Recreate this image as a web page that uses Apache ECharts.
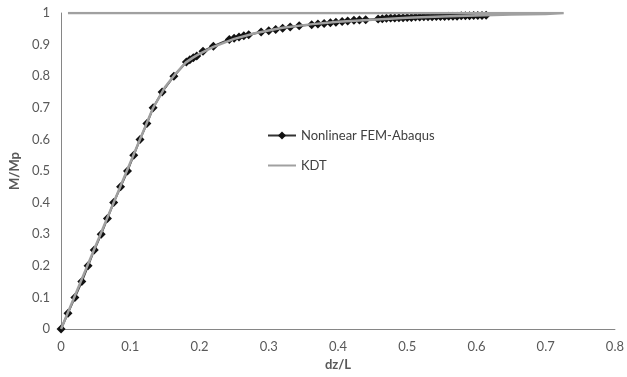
<!DOCTYPE html>
<html>
<head>
<meta charset="utf-8">
<script src="https://cdn.jsdelivr.net/npm/echarts@6/dist/echarts.min.js"></script>
<style>
  html, body { margin: 0; padding: 0; background: #fff; }
  #main { width: 627px; height: 377px; }
</style>
</head>
<body>
<div id="main"></div>
<script>
// FEM (Abaqus) points
const femX = [0, 0.010, 0.020, 0.030, 0.039, 0.048, 0.058, 0.067, 0.076, 0.086, 0.096, 0.105, 0.114, 0.124, 0.133, 0.146, 0.163, 0.181, 0.186, 0.191, 0.196, 0.205, 0.220, 0.243, 0.250, 0.257, 0.264, 0.271, 0.289, 0.300, 0.310, 0.320, 0.331, 0.344, 0.362, 0.371, 0.380, 0.389, 0.397, 0.406, 0.414, 0.423, 0.431, 0.440, 0.458, 0.464, 0.470, 0.476, 0.482, 0.488, 0.494, 0.500, 0.506, 0.512, 0.518, 0.524, 0.530, 0.536, 0.542, 0.548, 0.554, 0.560, 0.566, 0.572, 0.578, 0.584, 0.590, 0.596, 0.602, 0.608, 0.614]
const femY = [0, 0.05, 0.10, 0.15, 0.20, 0.25, 0.30, 0.35, 0.40, 0.45, 0.50, 0.55, 0.60, 0.65, 0.70, 0.75, 0.80, 0.845, 0.852, 0.858, 0.864, 0.879, 0.895, 0.916, 0.920, 0.924, 0.928, 0.931, 0.940, 0.944, 0.948, 0.952, 0.956, 0.960, 0.963, 0.965, 0.967, 0.969, 0.971, 0.973, 0.975, 0.977, 0.978, 0.979, 0.981, 0.982, 0.983, 0.984, 0.984, 0.985, 0.985, 0.986, 0.986, 0.987, 0.987, 0.988, 0.988, 0.988, 0.989, 0.989, 0.989, 0.990, 0.990, 0.990, 0.991, 0.991, 0.991, 0.992, 0.992, 0.992, 0.993]

// KDT curve, ends with the Mp = 1 line drawn back to the left
const kdtX = [0, 0.133, 0.150, 0.165, 0.180, 0.190, 0.200, 0.220, 0.250, 0.280, 0.320, 0.360, 0.400, 0.450, 0.500, 0.550, 0.600, 0.650, 0.700, 0.726, 0.010]
const kdtY = [0, 0.700, 0.765, 0.807, 0.843, 0.858, 0.871, 0.893, 0.918, 0.936, 0.953, 0.964, 0.972, 0.979, 0.985, 0.989, 0.992, 0.995, 0.997, 1.000, 1.000]

const xTicks = ['0', '0.1', '0.2', '0.3', '0.4', '0.5', '0.6', '0.7', '0.8']
const yTicks = ['0', '0.1', '0.2', '0.3', '0.4', '0.5', '0.6', '0.7', '0.8', '0.9', '1']

const pair = (xs, ys) => xs.map((x, i) => [x, ys[i]])

const font = 'Lato, "Open Sans", sans-serif'
const axisColor = '#868686'
const textColor = '#595959'

const myChart = echarts.init(document.getElementById('main'))
myChart.setOption({
  animation: false,
  textStyle: { fontFamily: font },
  grid: { left: 58, right: 9, top: 13, bottom: 48 },
  legend: {
    orient: 'vertical',
    left: 262,
    top: 124,
    itemWidth: 28,
    itemHeight: 10,
    itemGap: 17,
    textStyle: { fontFamily: font, fontSize: 13, color: '#404040' },
    data: [
      { name: 'Nonlinear FEM-Abaqus' },
      // plain line in the legend, no marker
      { name: 'KDT', itemStyle: { color: 'rgba(0,0,0,0)', borderWidth: 0, opacity: 0 } }
    ]
  },
  xAxis: {
    type: 'value',
    min: 0,
    max: 0.8,
    interval: 0.1,
    name: 'dz/L',
    nameLocation: 'middle',
    nameGap: 29,
    nameTextStyle: { fontFamily: font, fontSize: 13, fontWeight: 'bold', color: textColor },
    axisLine: { lineStyle: { color: axisColor, width: 1 } },
    axisTick: { show: false },
    splitLine: { show: false },
    axisLabel: {
      margin: 11,
      fontSize: 13,
      color: textColor,
      formatter: (v) => xTicks[Math.round(v * 10)]
    }
  },
  yAxis: {
    type: 'value',
    min: 0,
    max: 1,
    interval: 0.1,
    name: 'M/Mp',
    nameLocation: 'middle',
    nameGap: 38,
    nameRotate: 90,
    nameTextStyle: { fontFamily: font, fontSize: 13, fontWeight: 'bold', color: textColor },
    axisLine: { show: true, lineStyle: { color: axisColor, width: 1 } },
    axisTick: { show: false },
    splitLine: { show: false },
    axisLabel: {
      margin: 11,
      fontSize: 13,
      color: textColor,
      formatter: (v) => yTicks[Math.round(v * 10)]
    }
  },
  series: [
    {
      name: 'Nonlinear FEM-Abaqus',
      type: 'line',
      data: pair(femX, femY),
      symbol: 'diamond',
      symbolSize: 9,
      showAllSymbol: true,
      itemStyle: { color: '#111111' },
      lineStyle: { color: '#333333', width: 2 },
      z: 2
    },
    {
      name: 'KDT',
      type: 'line',
      data: pair(kdtX, kdtY),
      symbol: 'none',
      lineStyle: { color: '#a0a0a0', width: 2.5 },
      itemStyle: { color: '#a0a0a0' },
      z: 3
    }
  ]
})
window.addEventListener('resize', () => {
  myChart.resize()
})
</script>
</body>
</html>
